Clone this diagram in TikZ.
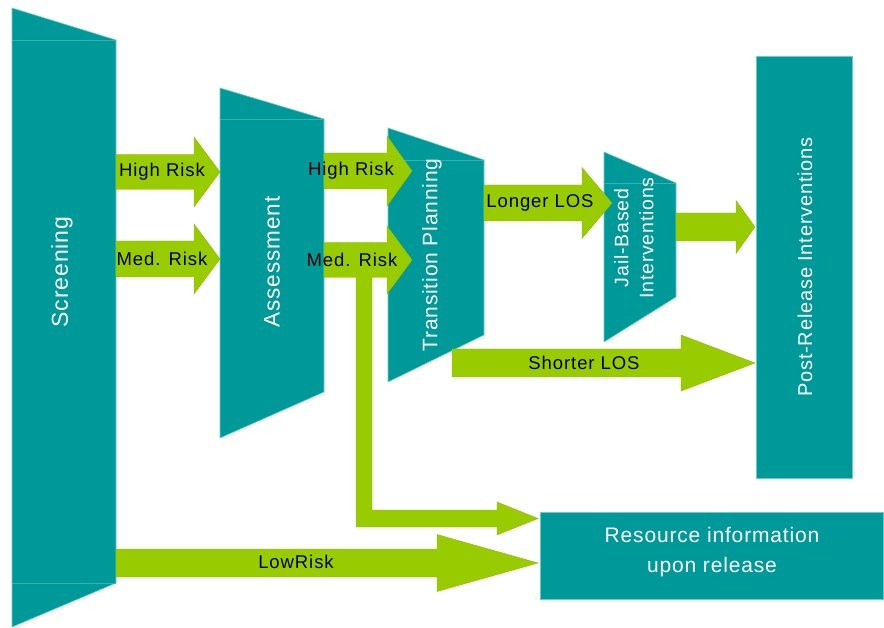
\documentclass[tikz,border=0pt]{standalone}
\usepackage{fontspec}
\setmainfont{Liberation Sans}
\newfontfamily\labfont[LetterSpace=5]{Liberation Sans}
\newfontfamily\boxfont[LetterSpace=4]{Liberation Sans}
\definecolor{tealc}{HTML}{009999}
\definecolor{greenc}{HTML}{99CC00}
\definecolor{edgec}{HTML}{66CCCC}
\newcommand\garr[6]{\draw[garrow] (#1,#3-#4) -- (#6,#3-#4) -- (#6,#3-#5) -- (#2,#3) -- (#6,#3+#5) -- (#6,#3+#4) -- (#1,#3+#4) -- cycle;}
\begin{document}
\begin{tikzpicture}[x=1pt,y=-1pt,
  stage/.style={fill=tealc, draw=edgec, line width=0.6pt},
  bevel/.style={draw=edgec!50!tealc, line width=0.5pt},
  garrow/.style={fill=greenc, draw=greenc!92!black, line width=0.4pt},
  lab/.style={font=\labfont\fontsize{18.5}{20}\selectfont, text=black, inner sep=0pt},
  wlab/.style={font=\boxfont\fontsize{#1}{25}\selectfont, text=white, inner sep=0pt, align=center},
  wlab/.default=21,
]
\useasboundingbox (0,0) rectangle (884,628);
\fill[white] (0,0) rectangle (884,628);

% stages
\draw[stage] (12,8) -- (116,40) -- (116,583) -- (12,627) -- cycle;
\draw[bevel] (12,40) -- (116,40);
\draw[bevel] (12,583) -- (116,583);
\draw[stage] (220,88) -- (324,119) -- (324,392) -- (220,438) -- cycle;
\draw[bevel] (220,119) -- (324,119);
\draw[stage] (388,128) -- (484,160) -- (484,335) -- (388,382) -- cycle;
\draw[bevel] (388,160) -- (484,160);
\draw[stage] (604,152) -- (676,183) -- (676,297) -- (604,342) -- cycle;
\draw[bevel] (604,183) -- (676,183);
\draw[stage] (756,56) rectangle (852,478);
\draw[stage] (540,512) rectangle (883,599);

% arrows
\garr{116}{220}{172}{17.5}{35}{194}
\garr{116}{220}{259}{18}{35}{194}
\garr{324}{412}{171}{18}{35}{387}
\garr{324}{412}{260}{17.5}{34}{387}
\draw[garrow] (356,276) -- (356,527) -- (497,527) -- (497,535) -- (538,518.5) -- (497,502) -- (497,510) -- (372,510) -- (372,276) -- cycle;
\fill[greenc] (352,262) rectangle (376,277);
\garr{116}{538}{563}{14}{28.5}{437}
\garr{484}{612}{203}{18}{35.5}{582}
\garr{676}{755}{227}{14}{26.5}{736}
\garr{452}{755}{363}{14}{28}{681}

% stage texts
\node[wlab=23, rotate=90] (screening) at (62,272) {Screening};
\node[wlab=22.5, rotate=90] (assessment) at (272,262) {Assessment};
\node[wlab=21, rotate=90] (planning) at (432,255) {Transition Planning};
\node[wlab=19.5, rotate=90] (jail) at (634,238) {Jail-Based\\Interventions};
\node[wlab=20, rotate=90] (post) at (805,267) {Post-Release Interventions};
\node[text=white, inner sep=0pt, align=center, font=\boxfont\fontsize{21}{30}\selectfont] (resource) at (712,552) {Resource information\\upon release};

% arrow labels
\node[lab] (hr1) at (162,172) {High Risk};
\node[lab] (mr1) at (162,259) {Med. Risk};
\node[lab] (hr2) at (351,171) {High Risk};
\node[lab] (mr2) at (352,260) {Med. Risk};
\node[lab] (longer) at (540,203) {Longer LOS};
\node[lab] (shorter) at (584,363) {Shorter LOS};
\node[lab] (low) at (296,562) {LowRisk};
\end{tikzpicture}
\end{document}
